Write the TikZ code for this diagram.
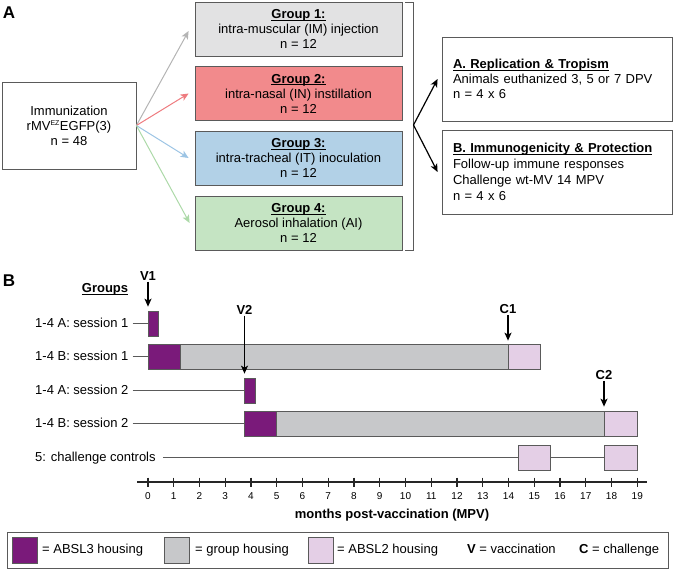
\documentclass[tikz,border=0pt]{standalone}
\usepackage{fontspec}
\setmainfont{Liberation Sans}
\usetikzlibrary{arrows.meta}
\definecolor{boxline}{HTML}{5A5A5A}
\definecolor{gOne}{HTML}{E2E2E3}
\definecolor{gTwo}{HTML}{F28A8C}
\definecolor{gThree}{HTML}{B2D1E7}
\definecolor{gFour}{HTML}{C5E4C3}
\definecolor{aOne}{HTML}{B4B4B4}
\definecolor{aTwo}{HTML}{EE7B7F}
\definecolor{aThree}{HTML}{9CC4E4}
\definecolor{aFour}{HTML}{ACD9A8}
\definecolor{absl3}{HTML}{7A1A7A}
\definecolor{grouph}{HTML}{C7C8CA}
\definecolor{absl2}{HTML}{E4CFE6}
\newcommand\mainfs{\fontsize{13}{15}\selectfont}
\newcommand\widefs{\fontsize{13}{16}\selectfont}
\newcommand\tickfs{\fontsize{10}{12}\selectfont}
\newcommand\panelfs{\fontsize{17}{20}\selectfont\bfseries}
\newcommand\ulin[1]{\underline{\raisebox{0pt}[\height][0pt]{#1}}}
\begin{document}
\begin{tikzpicture}[x=1pt,y=-1pt,
  grpbox/.style={draw=boxline, line width=0.8pt, minimum width=207pt, minimum height=54pt, inner sep=0pt, align=center, font=\mainfs},
  infobox/.style={draw=boxline, line width=0.8pt, minimum width=230pt, minimum height=84pt, inner sep=0pt, text width=208pt, align=left, font=\mainfs},
  colarrow/.style={line width=1pt, -{Stealth[length=8pt,width=7pt,inset=2pt]}},
  blkarrow/.style={line width=1.2pt, black, -{Stealth[length=8pt,width=7pt,inset=2pt]}},
  rowlabel/.style={font=\mainfs, inner sep=2pt, anchor=west, text height=9.5pt, text depth=2.5pt},
  bar/.style={draw=boxline, line width=0.7pt, minimum height=25pt, inner sep=0pt, anchor=west},
  rowline/.style={draw=boxline, line width=0.8pt},
  marklabel/.style={font=\mainfs\bfseries, inner sep=1pt},
  legtext/.style={font=\mainfs, inner sep=2pt, anchor=west, text height=9.5pt, text depth=2.5pt},
  legsq/.style={draw=boxline, line width=0.7pt, minimum width=25pt, minimum height=26pt, inner sep=0pt}
]
\useasboundingbox (0,0) rectangle (675,570);

% Panel A
\node[font=\panelfs, inner sep=0pt] (pA) at (9,13) {A};
\node[draw=boxline, line width=0.8pt, minimum width=134pt, minimum height=87pt, inner sep=0pt, align=center, font=\mainfs] (imm) at (69,125.5)
  {Immunization\\rMV\textsuperscript{\fontsize{7}{8}\selectfont EZ}EGFP(3)\\n = 48};

\node[grpbox, fill=gOne] (g1) at (298.5,29) {\ulin{\textbf{Group 1:}}\\intra-muscular (IM) injection\\n = 12};
\node[grpbox, fill=gTwo] (g2) at (298.5,93.5) {\ulin{\textbf{Group 2:}}\\intra-nasal (IN) instillation\\n = 12};
\node[grpbox, fill=gThree] (g3) at (298.5,158) {\ulin{\textbf{Group 3:}}\\intra-tracheal (IT) inoculation\\n = 12};
\node[grpbox, fill=gFour] (g4) at (298.5,223) {\ulin{\textbf{Group 4:}}\\Aerosol inhalation (AI)\\n = 12};

\draw[colarrow, aOne] (imm.east) -- ([xshift=-6pt,yshift=-2pt]g1.west);
\draw[colarrow, aTwo] (imm.east) -- ([xshift=-6pt]g2.west);
\draw[colarrow, aThree] (imm.east) -- ([xshift=-6pt]g3.west);
\draw[colarrow, aFour] (imm.east) -- ([xshift=-5pt]g4.west);

\draw[draw=boxline, line width=0.8pt] (405,2) -- (413.5,2) -- (413.5,250) -- (405,250);
\coordinate (br) at (413.5,125);

\node[infobox] (ra) at (557,79) {\ulin{\textbf{A. Replication \& Tropism}}\\Animals euthanized 3, 5 or 7 DPV\\n = 4 x 6};
\node[infobox, font=\widefs] (rb) at (557,172) {\ulin{\textbf{B. Immunogenicity \& Protection}}\\Follow-up immune responses\\Challenge wt-MV 14 MPV\\n = 4 x 6};

\draw[blkarrow] (br) -- ([xshift=-4pt]ra.west);
\draw[blkarrow] (br) -- ([xshift=-4pt]rb.west);

% Panel B
\node[font=\panelfs, inner sep=0pt] (pB) at (9,281) {B};
\node[font=\mainfs\bfseries, inner sep=0pt] (grp) at (105,289) {\ulin{Groups}};

% row labels
\node[rowlabel] (l1) at (33,323.5) {1-4 A: session 1};
\node[rowlabel] (l2) at (33,356.5) {1-4 B: session 1};
\node[rowlabel] (l3) at (33,390.5) {1-4 A: session 2};
\node[rowlabel] (l4) at (33,423.5) {1-4 B: session 2};
\node[rowlabel] (l5) at (33,457.5) {5: challenge controls};

% bars
\node[bar, fill=absl3, minimum width=10pt] (b1a) at (148,323.5) {};
\node[bar, fill=absl3, minimum width=32pt] (b2a) at (148,356.5) {};
\node[bar, fill=grouph, minimum width=328pt] (b2b) at (180,356.5) {};
\node[bar, fill=absl2, minimum width=32pt] (b2c) at (508,356.5) {};
\node[bar, fill=absl3, minimum width=11pt] (b3a) at (244,390.5) {};
\node[bar, fill=absl3, minimum width=32pt] (b4a) at (244,423.5) {};
\node[bar, fill=grouph, minimum width=328pt] (b4b) at (276,423.5) {};
\node[bar, fill=absl2, minimum width=33pt] (b4c) at (604,423.5) {};
\node[bar, fill=absl2, minimum width=32pt] (b5a) at (518,457.5) {};
\node[bar, fill=absl2, minimum width=33pt] (b5b) at (604,457.5) {};

\draw[rowline] ([xshift=2pt]l1.east) -- (b1a.west);
\draw[rowline] ([xshift=2pt]l2.east) -- (b2a.west);
\draw[rowline] ([xshift=2pt]l3.east) -- (b3a.west);
\draw[rowline] ([xshift=2pt]l4.east) -- (b4a.west);
\draw[rowline] ([xshift=5pt]l5.east) -- (b5a.west);
\draw[rowline] (b5a.east) -- (b5b.west);

% event markers
\node[marklabel] (v1) at (148,276) {V1};
\node[marklabel] (v2) at (244.5,310) {V2};
\node[marklabel] (c1) at (508,309) {C1};
\node[marklabel] (c2) at (604,375) {C2};
\draw[blkarrow, shorten >=4pt] (v1.south) -- (v1.south |- b1a.north);
\draw[blkarrow, shorten >=4pt] (v2.south) -- (v2.south |- b3a.north);
\draw[blkarrow, shorten >=3pt] (c1.south) -- (c1.south |- b2c.north);
\draw[blkarrow, shorten >=4pt] (c2.south) -- (c2.south |- b4c.north);

% axis
\coordinate (ax0) at (137,482);
\coordinate (ax1) at (647,482);
\draw[line width=1.3pt, black!85] (ax0) -- (ax1);
\foreach \i in {0,...,19} {
  \draw[line width=1.1pt, black!85] ({148+25.75*\i},477.5) -- ({148+25.75*\i},486.5);
  \node[font=\tickfs, inner sep=0pt] (t\i) at ({148+25.75*\i},496) {\i};
}
\node[font=\mainfs\bfseries, inner sep=0pt] (mpv) at (392,515) {months post-vaccination (MPV)};

% legend
\node[draw=boxline, line width=0.8pt, minimum width=661pt, minimum height=36pt, inner sep=0pt] (leg) at (337.5,550) {};
\node[legsq, fill=absl3] (s1) at (24.5,550) {};
\node[legtext] (s1t) at (40,550) {= ABSL3 housing};
\node[legsq, fill=grouph] (s2) at (177,550) {};
\node[legtext] (s2t) at (193,550) {= group housing};
\node[legsq, fill=absl2] (s3) at (320.5,550) {};
\node[legtext] (s3t) at (335,550) {= ABSL2 housing};
\node[legtext] (s4t) at (465,550) {\textbf{V} = vaccination};
\node[legtext] (s5t) at (577,550) {\textbf{C} = challenge};
\end{tikzpicture}
\end{document}
